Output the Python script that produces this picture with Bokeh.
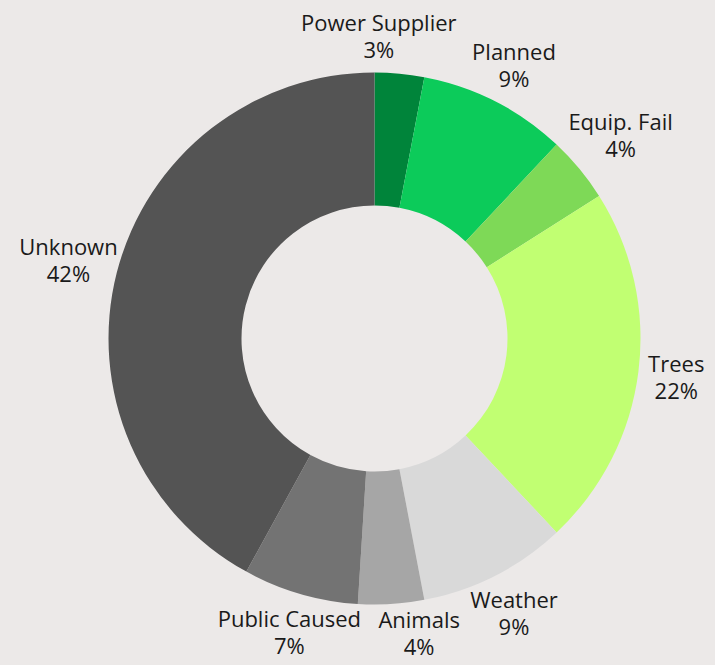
import math
from bokeh.plotting import figure
from bokeh.models import ColumnDataSource
from bokeh.core.properties import value
from bokeh.embed import file_html
from bokeh.resources import INLINE

# ---- data ----
categories = ["Power Supplier", "Planned", "Equip. Fail", "Trees", "Weather", "Animals", "Public Caused", "Unknown"]
shares = [3, 9, 4, 22, 9, 4, 7, 42]
colors = ["#00843A", "#0CCB5A", "#7ED957", "#C1FF72", "#D9D9D9", "#A6A6A6", "#737373", "#545454"]

BG = "#ECE9E8"
W, H = 715, 665
CX, CY = 374, H - 338
R_OUT, R_IN = 266, 133
GAP = 11
FS = 22
LINE = 27

total = sum(shares)
starts, ends, lx, ly, labels, widths = [], [], [], [], [], []
acc = 0.0
for c, s in zip(categories, shares):
    t0 = acc / total * 2 * math.pi
    acc += s
    t1 = acc / total * 2 * math.pi
    starts.append(math.pi / 2 - t0)
    ends.append(math.pi / 2 - t1)
    tm = (t0 + t1) / 2
    w = len(c) * 0.49 * FS
    h = 2 * LINE
    sa, ca = abs(math.sin(tm)), abs(math.cos(tm))
    half = min(w / 2 / sa if sa > 1e-6 else 1e9, h / 2 / ca if ca > 1e-6 else 1e9)
    r = R_OUT + GAP + half
    lx.append(CX + r * math.sin(tm))
    y = CY + r * math.cos(tm)
    y = max(y, LINE + 6)  # keep the label block inside the page
    ly.append(y)
    labels.append(f"{c}\n{s}%")
    widths.append(w)

# simple collision avoidance between neighbouring labels
n = len(lx)
for i in range(n):
    j = (i + 1) % n
    if abs(ly[i] - ly[j]) < 2 * LINE:
        left, right = (i, j) if lx[i] < lx[j] else (j, i)
        need = (widths[left] + widths[right]) / 2 + 22
        gap = lx[right] - lx[left]
        if gap < need:
            mover = i if shares[i] < shares[j] else j
            d = need - gap
            if mover == right:
                lx[right] += d
            else:
                lx[left] -= d

src = ColumnDataSource(dict(start=starts, end=ends, color=colors,
                            x=[CX] * len(shares), y=[CY] * len(shares)))
lab = ColumnDataSource(dict(x=lx, y=ly, text=labels))

p = figure(width=W, height=H, x_range=(0, W), y_range=(0, H),
           output_backend="svg", toolbar_location=None, min_border=0)
p.axis.visible = False
p.grid.visible = False
p.outline_line_color = None
p.background_fill_color = BG
p.border_fill_color = BG

p.annular_wedge(x="x", y="y", inner_radius=R_IN, outer_radius=R_OUT,
                start_angle="start", end_angle="end", direction="clock",
                fill_color="color", line_color=None, source=src)

p.text(x="x", y="y", text="text", source=lab, text_align="center",
       text_baseline="middle", text_font=value("Open Sans"),
       text_font_size=f"{FS}px", text_color="#1A1A1A", text_line_height=0.9)

template = """
{% block postamble %}<style>html, body { background: #ECE9E8; }</style>{% endblock %}
"""
open("out.html", "w").write(file_html(p, INLINE, template=template))
